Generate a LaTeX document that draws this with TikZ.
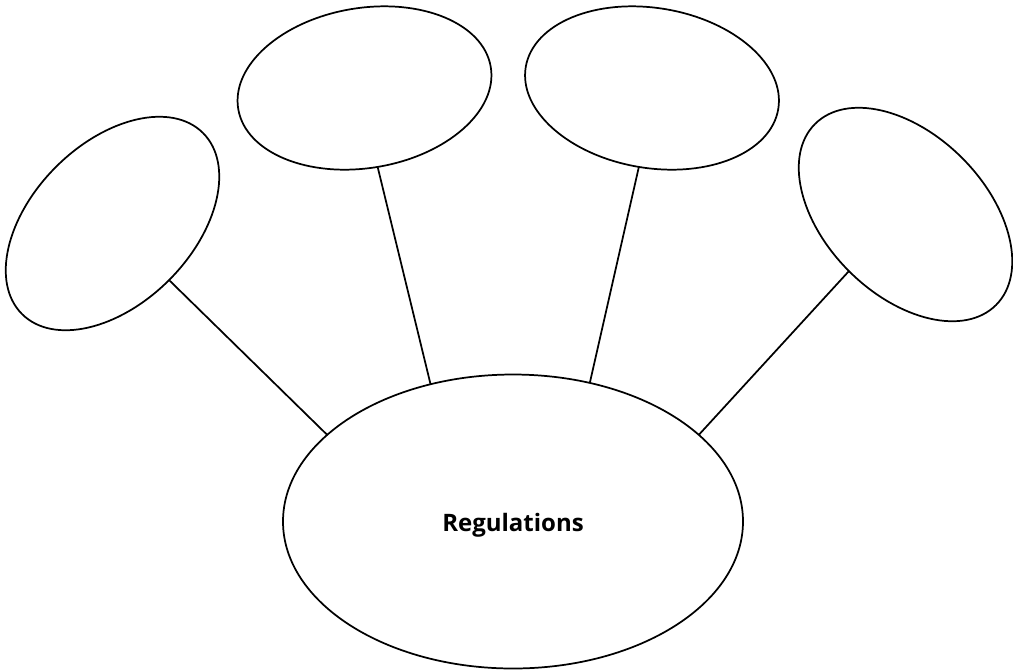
\documentclass[tikz,border=0pt]{standalone}
\usepackage{fontspec}
\newfontfamily\labelfont{Open Sans}
\usetikzlibrary{shapes.geometric}
\tikzset{
  bubble/.style={ellipse, draw=black, line width=1.3pt, inner sep=0pt, outer sep=0pt,
    minimum width=192pt, minimum height=120pt},
  hub/.style={ellipse, draw=black, line width=1.3pt, inner sep=0pt, outer sep=0pt,
    minimum width=345pt, minimum height=220.5pt, text height=15.3pt, text depth=0pt,
    font=\labelfont\bfseries\fontsize{18}{22}\selectfont},
  spoke/.style={draw=black, line width=1.3pt}
}
\begin{document}
\begin{tikzpicture}[x=0.75pt,y=0.75pt]
  \useasboundingbox (0,0) rectangle (1013,-669);
  % central topic
  \node[hub] (main) at (513,-521.5) {Regulations};
  % surrounding bubbles
  \node[bubble, rotate=45]    (b1) at (112.5,-223.5) {};
  \node[bubble, rotate=9.45]  (b2) at (364.5,-88) {};
  \node[bubble, rotate=-9.45] (b3) at (652,-88) {};
  \node[bubble, rotate=-45]   (b4) at (905.5,-214.5) {};
  % spokes
  \draw[spoke] (b1.south) -- (main.155.2);
  \draw[spoke] (b2.south) -- (main.121.3);
  \draw[spoke] (b3.south) -- (main.61.8);
  \draw[spoke] (b4.south) -- (main.25.7);
\end{tikzpicture}
\end{document}
